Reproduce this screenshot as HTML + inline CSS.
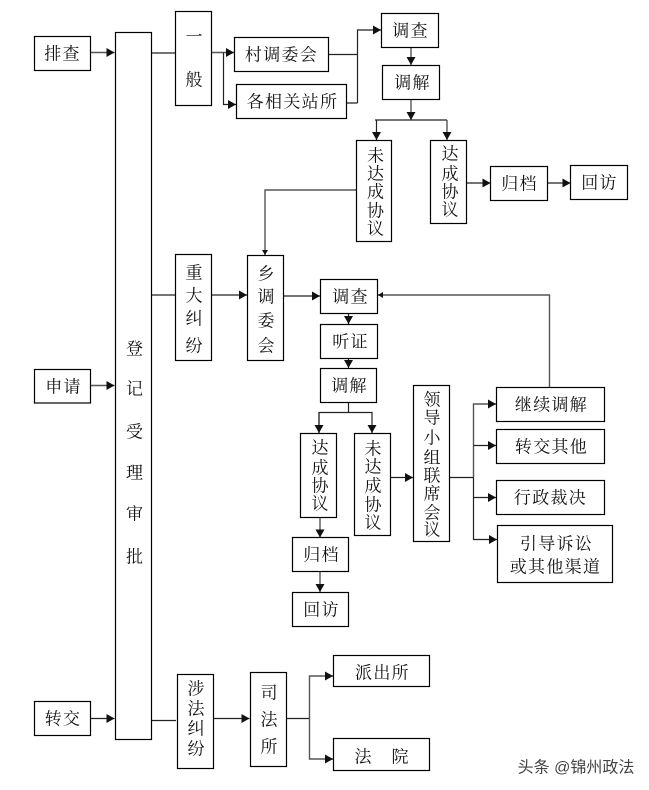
<!DOCTYPE html>
<html lang="zh"><head><meta charset="utf-8"><title>调解流程图</title>
<style>
html,body{margin:0;padding:0;background:#fff;width:649px;height:790px;overflow:hidden}
svg{display:block;filter:blur(.3px)}
rect{fill:#fff;stroke:#000;stroke-width:1.2}
path{fill:none;stroke:#222;stroke-width:1.2}
path.g{stroke:#555;stroke-width:1.4}
text{font-family:"Liberation Serif","Noto Serif CJK SC",serif;font-size:17px;fill:#111;text-anchor:middle;dominant-baseline:central;transform:translateY(1px)}
text.w{font-family:"Liberation Sans","Noto Sans CJK SC",sans-serif;font-size:16px;fill:#444}
.s{letter-spacing:1.3px}
</style></head><body>
<svg width="649" height="790" viewBox="0 0 649 790" xmlns="http://www.w3.org/2000/svg">
<defs>
<marker id="a" markerUnits="userSpaceOnUse" markerWidth="8" markerHeight="9" refX="8" refY="4.5" orient="auto"><polygon points="0,0 8,4.5 0,9" fill="#111"/></marker>
<marker id="b" markerUnits="userSpaceOnUse" markerWidth="5" markerHeight="6" refX="5" refY="3" orient="auto"><polygon points="0,0 5,3 0,6" fill="#111"/></marker>
</defs>

<!-- connectors -->
<path class="g" d="M90.5 52.5H114.5" marker-end="url(#a)"/>
<path class="g" d="M90.5 385.5H114.5" marker-end="url(#a)"/>
<path d="M90.5 718.5H114.5" marker-end="url(#a)"/>
<path d="M151.5 53H175.5"/>
<path class="g" d="M211.5 52.5H234" marker-end="url(#a)"/>
<path d="M223.5 52.5V104.5H236" marker-end="url(#a)"/>
<path d="M328.5 54.5H357.5M346.5 103H357.5M357.5 103V30H381" marker-end="url(#a)"/>
<path class="g" d="M411 45V65" marker-end="url(#a)"/>
<path class="g" d="M411 99V120" marker-end="url(#a)"/>
<path d="M375 120H447"/>
<path d="M376.5 120V140" marker-end="url(#a)"/>
<path class="g" d="M447 120V140" marker-end="url(#a)"/>
<path class="g" d="M356.5 190H265V255" marker-end="url(#b)"/>
<path d="M466.5 183H490.5" marker-end="url(#a)"/>
<path d="M547.5 183H570.5" marker-end="url(#a)"/>
<path d="M151.5 295H175.5"/>
<path d="M211.5 295H247" marker-end="url(#a)"/>
<path d="M283.5 296H320" marker-end="url(#a)"/>
<path class="g" d="M549.5 387V295H378" marker-end="url(#b)"/>
<path d="M348.5 313V324" marker-end="url(#a)"/>
<path d="M348.5 358V368" marker-end="url(#a)"/>
<path d="M348.5 402V412.5"/>
<path d="M319 433V412.5H372V433" marker-end="url(#a)"/>
<path d="M319 412.5V433" marker-end="url(#a)"/>
<path class="g" d="M320 517V537.5" marker-end="url(#a)"/>
<path class="g" d="M320 571.5V592" marker-end="url(#a)"/>
<path d="M390.5 477.5H413" marker-end="url(#a)"/>
<path d="M449.5 477.5H473.5"/>
<path class="g" d="M473.5 477V404H496" marker-end="url(#a)"/>
<path d="M473.5 445.5H496" marker-end="url(#a)"/>
<path d="M473.5 497.5H496" marker-end="url(#a)"/>
<path d="M473.5 477V539.5H497" marker-end="url(#a)"/>
<path d="M151.5 720.5H176"/>
<path d="M213.5 718.5H249.5" marker-end="url(#a)"/>
<path d="M286.5 718.5H309.5"/>
<path class="g" d="M309.5 718V676H333" marker-end="url(#a)"/>
<path class="g" d="M309.5 718V759H333" marker-end="url(#a)"/>

<!-- boxes -->
<rect x="34.5" y="36.5" width="56" height="34"/>
<rect x="34.5" y="369.5" width="56" height="33.5"/>
<rect x="34.5" y="701.5" width="56" height="34"/>
<rect x="115.5" y="32.5" width="36" height="707"/>
<rect x="175.5" y="11.5" width="36" height="94"/>
<rect x="234.5" y="37.5" width="94" height="34"/>
<rect x="236.5" y="84.5" width="110" height="34"/>
<rect x="381.5" y="13.5" width="57" height="34"/>
<rect x="382.5" y="65.5" width="57" height="34"/>
<rect x="356.5" y="140.5" width="35" height="101"/>
<rect x="430.5" y="140.5" width="36" height="83"/>
<rect x="490.5" y="166.5" width="57" height="34"/>
<rect x="570.5" y="165.5" width="57" height="34"/>
<rect x="175.5" y="254.5" width="36" height="106"/>
<rect x="247.5" y="255.5" width="36" height="105"/>
<rect x="320.5" y="279.5" width="57" height="34"/>
<rect x="320.5" y="324.5" width="57" height="34"/>
<rect x="320.5" y="368.5" width="56" height="34"/>
<rect x="300.5" y="433.5" width="36" height="84"/>
<rect x="354.5" y="433.5" width="36" height="102"/>
<rect x="413.5" y="385.5" width="36" height="156"/>
<rect x="496.5" y="387.5" width="108" height="34"/>
<rect x="496.5" y="429.5" width="108" height="34"/>
<rect x="496.5" y="480.5" width="108" height="34"/>
<rect x="497.5" y="525.5" width="115" height="57"/>
<rect x="292.5" y="537.5" width="56" height="34"/>
<rect x="292.5" y="592.5" width="56" height="34"/>
<rect x="333.5" y="655.5" width="96" height="31"/>
<rect x="333.5" y="738.5" width="96" height="32"/>
<rect x="177.5" y="674.5" width="36" height="94"/>
<rect x="250.5" y="672.5" width="36" height="94"/>

<!-- horizontal labels -->
<text class="s" x="62.5" y="53">排查</text>
<text class="s" x="63.5" y="386">申请</text>
<text class="s" x="63" y="718">转交</text>
<text class="s" x="281.5" y="54">村调委会</text>
<text class="s" x="292.5" y="101">各相关站所</text>
<text class="s" x="410.5" y="30">调查</text>
<text class="s" x="412.5" y="82">调解</text>
<text class="s" x="519.5" y="183">归档</text>
<text class="s" x="599.5" y="182">回访</text>
<text class="s" x="350.5" y="296">调查</text>
<text class="s" x="350.5" y="341">听证</text>
<text class="s" x="349.5" y="385">调解</text>
<text class="s" x="551.5" y="404">继续调解</text>
<text class="s" x="551.5" y="446">转交其他</text>
<text class="s" x="550.5" y="497">行政裁决</text>
<text class="s" x="556.5" y="543">引导诉讼</text>
<text class="s" x="555.5" y="566">或其他渠道</text>
<text class="s" x="321.5" y="554">归档</text>
<text class="s" x="321.5" y="609">回访</text>
<text class="s" x="382.5" y="672">派出所</text>
<text x="363" y="756">法</text><text x="400" y="756">院</text>

<!-- vertical labels -->
<text x="134.5" y="348">登</text><text x="134.5" y="388">记</text><text x="134.5" y="431">受</text><text x="134.5" y="472">理</text><text x="134.5" y="513">审</text><text x="134.5" y="556">批</text>
<text x="194" y="36">一</text><text x="194" y="79">般</text>
<text x="194" y="272">重</text><text x="194" y="295">大</text><text x="194" y="318">纠</text><text x="194" y="345">纷</text>
<text x="266" y="273">乡</text><text x="266" y="296">调</text><text x="266" y="320">委</text><text x="266" y="345">会</text>
<text x="375.5" y="155">未</text><text x="375.5" y="173">达</text><text x="375.5" y="191">成</text><text x="375.5" y="210">协</text><text x="375.5" y="228">议</text>
<text x="450" y="153">达</text><text x="450" y="173">成</text><text x="450" y="191">协</text><text x="450" y="209">议</text>
<text x="320" y="447">达</text><text x="320" y="467">成</text><text x="320" y="485">协</text><text x="320" y="503">议</text>
<text x="373" y="448">未</text><text x="373" y="466">达</text><text x="373" y="485">成</text><text x="373" y="504">协</text><text x="373" y="522">议</text>
<text x="432" y="399">领</text><text x="432" y="417">导</text><text x="432" y="437">小</text><text x="432" y="457">组</text><text x="432" y="475">联</text><text x="432" y="493">席</text><text x="432" y="512">会</text><text x="432" y="529">议</text>
<text x="196" y="688">涉</text><text x="196" y="708">法</text><text x="196" y="728">纠</text><text x="196" y="748">纷</text>
<text x="269" y="692">司</text><text x="269" y="719">法</text><text x="269" y="746">所</text>

<text class="w" x="576" y="767">头条 @锦州政法</text>
</svg>
</body></html>
